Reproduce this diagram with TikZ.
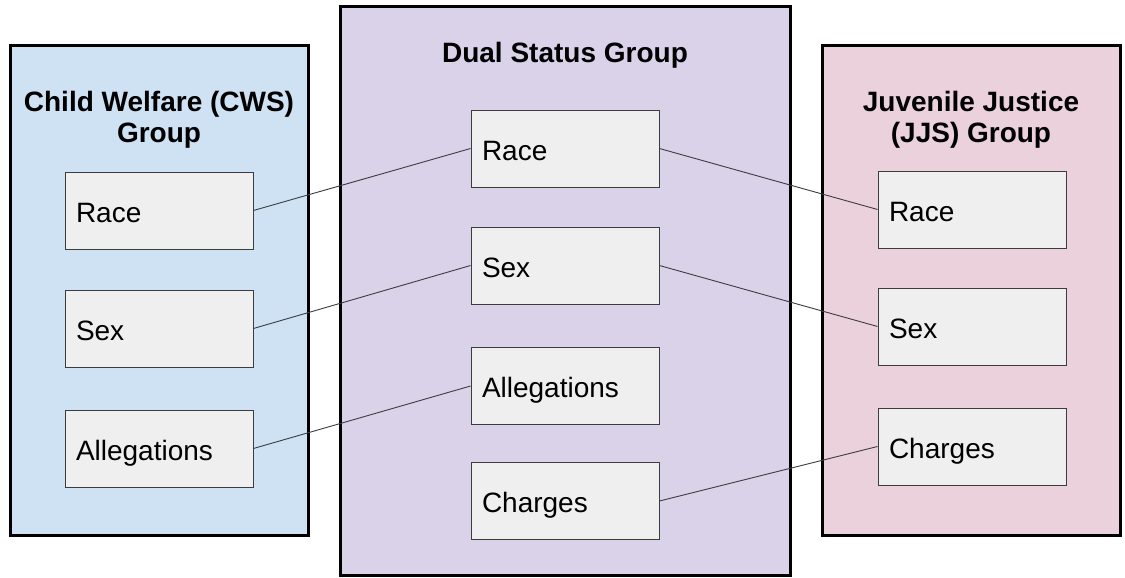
\documentclass[tikz,border=0pt]{standalone}
\usepackage{fontspec}
\setmainfont{Liberation Sans}
\definecolor{cwsblue}{HTML}{CFE2F3}
\definecolor{dualpurple}{HTML}{D9D2E9}
\definecolor{jjspink}{HTML}{EAD1DC}
\definecolor{itemgray}{HTML}{EFEFEF}
\definecolor{linegray}{HTML}{3C3C3C}
\begin{document}
\begin{tikzpicture}[x=1pt,y=-1pt,
  group/.style={draw=black, line width=3pt, inner sep=0pt, outer sep=0pt},
  title/.style={font=\fontsize{28}{31}\selectfont\bfseries, align=center, inner sep=0pt},
  item/.style={draw=linegray, line width=0.9pt, fill=itemgray, minimum width=188, minimum height=77,
    text width=166, align=left, inner sep=11, text height=26, text depth=3,
    font=\fontsize{28}{31}\selectfont},
  link/.style={draw=linegray, line width=0.9pt}]
\useasboundingbox (0,0) rectangle (1125,578);
% groups
\node[group, fill=cwsblue, minimum width=298, minimum height=489] (cws) at (159,290.5) {};
\node[group, fill=dualpurple, minimum width=450, minimum height=568] (dual) at (565,291) {};
\node[group, fill=jjspink, minimum width=298, minimum height=489] (jjs) at (971,290.5) {};
% titles
\node[title, anchor=north] (cwsT) at (159,91.5) {Child Welfare (CWS)\\Group};
\node[title, anchor=base] (dualT) at (565,63) {Dual Status Group};
\node[title, anchor=north] (jjsT) at (971,91.5) {Juvenile Justice\\(JJS) Group};
% left items
\node[item] (cRace) at (159,210.5) {Race};
\node[item] (cSex) at (159,328.5) {Sex};
\node[item] (cAll) at (159,448.5) {Allegations};
% middle items
\node[item] (dRace) at (565,148.5) {Race};
\node[item] (dSex) at (565,265.5) {Sex};
\node[item] (dAll) at (565,386) {Allegations};
\node[item] (dCha) at (565,501) {Charges};
% right items
\node[item] (jRace) at (972,209.5) {Race};
\node[item] (jSex) at (972,326.5) {Sex};
\node[item] (jCha) at (972,446.5) {Charges};
% links
\draw[link] (cRace.east) -- (dRace.west);
\draw[link] (cSex.east) -- (dSex.west);
\draw[link] (cAll.east) -- (dAll.west);
\draw[link] (dRace.east) -- (jRace.west);
\draw[link] (dSex.east) -- (jSex.west);
\draw[link] (dCha.east) -- (jCha.west);
\end{tikzpicture}
\end{document}
